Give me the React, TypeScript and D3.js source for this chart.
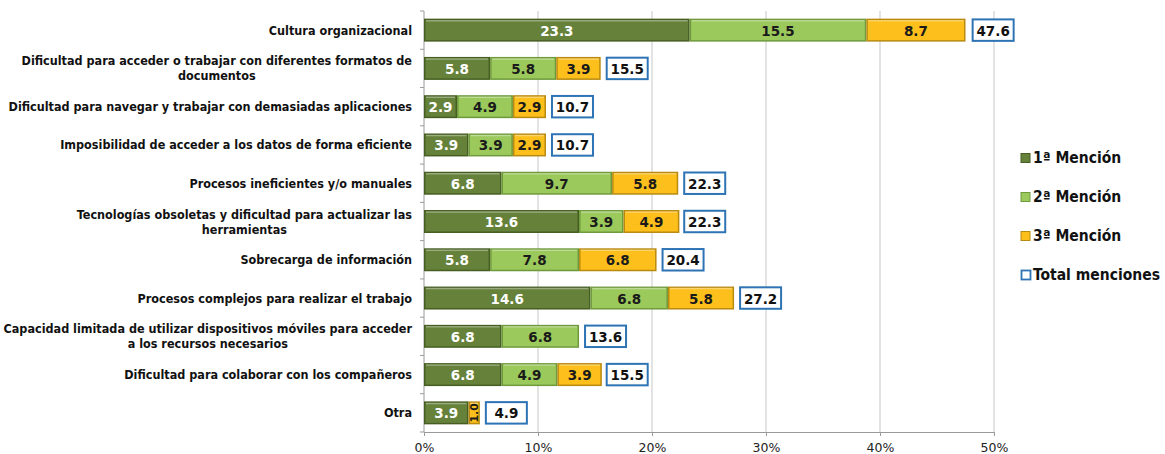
import { useEffect, useRef } from "react";
import * as d3 from "d3";

// Chart values
const categories: string[][] = [
  ["Cultura organizacional"],
  ["Dificultad para acceder o trabajar con diferentes formatos de", "documentos"],
  ["Dificultad para navegar y trabajar con demasiadas aplicaciones"],
  ["Imposibilidad de acceder a los datos de forma eficiente"],
  ["Procesos ineficientes y/o manuales"],
  ["Tecnologías obsoletas y dificultad para actualizar las", "herramientas"],
  ["Sobrecarga de información"],
  ["Procesos complejos para realizar el trabajo"],
  ["Capacidad limitada de utilizar dispositivos móviles para acceder", "a los recursos necesarios"],
  ["Dificultad para colaborar con los compañeros"],
  ["Otra"],
];
const mencion1 = [23.3, 5.8, 2.9, 3.9, 6.8, 13.6, 5.8, 14.6, 6.8, 6.8, 3.9];
const mencion2 = [15.5, 5.8, 4.9, 3.9, 9.7, 3.9, 7.8, 6.8, 6.8, 4.9, 0];
const mencion3 = [8.7, 3.9, 2.9, 2.9, 5.8, 4.9, 6.8, 5.8, 0, 3.9, 1.0];
const totales = [47.6, 15.5, 10.7, 10.7, 22.3, 22.3, 20.4, 27.2, 13.6, 15.5, 4.9];
const xTicks = [0, 10, 20, 30, 40, 50];
const seriesNames = ["1ª Mención", "2ª Mención", "3ª Mención"];
const seriesFill = ["#66823a", "#9bc95c", "#fdbf1c"];
const seriesStroke = ["#465e22", "#6f9a3c", "#b88a10"];
const seriesText = ["#ffffff", "#1a1a1a", "#1a1a1a"];

const W = 1165;
const H = 454;
const FONT = "'DejaVu Sans Condensed', 'DejaVu Sans', sans-serif";
const NUMFONT = "Verdana, 'DejaVu Sans', sans-serif";

export default function App() {
  const ref = useRef<SVGSVGElement>(null);

  useEffect(() => {
    if (!ref.current) return;
    const svg = d3.select(ref.current);
    svg.selectAll("*").remove();

    const margin = { top: 11, right: 171, bottom: 22, left: 424 };

    const x = d3.scaleLinear().domain([0, 50]).range([margin.left, W - margin.right]);
    const y = d3.scaleBand<number>()
      .domain(d3.range(categories.length))
      .range([margin.top, H - margin.bottom])
      .paddingInner(0.4)
      .paddingOuter(0.2);
    const step = y.step();

    // vertical gridlines
    svg.append("g")
      .selectAll("line")
      .data(xTicks.slice(1))
      .join("line")
      .attr("x1", d => x(d)).attr("x2", d => x(d))
      .attr("y1", margin.top).attr("y2", H - margin.bottom)
      .attr("stroke", "#d4d4d4").attr("stroke-width", 1.3);

    // x axis
    const xAxis = svg.append("g")
      .attr("transform", `translate(0,${H - margin.bottom})`)
      .call(d3.axisBottom(x).tickValues(xTicks).tickSize(4).tickFormat(d => `${d}%`));
    xAxis.select(".domain").attr("stroke", "#9a9a9a");
    xAxis.selectAll(".tick line").attr("stroke", "#9a9a9a");
    xAxis.selectAll(".tick text")
      .attr("font-family", NUMFONT)
      .attr("font-size", 12.5).attr("fill", "#222").attr("dy", "1em");

    // y axis line with ticks at band boundaries
    const yg = svg.append("g");
    yg.append("line")
      .attr("x1", margin.left).attr("x2", margin.left)
      .attr("y1", margin.top).attr("y2", H - margin.bottom)
      .attr("stroke", "#9a9a9a");
    yg.selectAll("line.tk")
      .data(d3.range(categories.length + 1))
      .join("line")
      .attr("class", "tk")
      .attr("x1", margin.left - 4).attr("x2", margin.left)
      .attr("y1", d => margin.top + d * step).attr("y2", d => margin.top + d * step)
      .attr("stroke", "#9a9a9a");

    // category labels
    const labelX = 412;
    categories.forEach((lines, i) => {
      const cy = y(i)! + y.bandwidth() / 2;
      const g = svg.append("g");
      const t0 = g.append("text")
        .attr("font-family", FONT).attr("font-weight", "bold").attr("font-size", 12.5)
        .attr("fill", "#111").attr("dominant-baseline", "central")
        .text(lines[0]);
      const w0 = (t0.node() as SVGTextElement).getComputedTextLength();
      if (lines.length === 1) {
        t0.attr("x", labelX).attr("y", cy).attr("text-anchor", "end");
      } else {
        const mid = labelX - w0 / 2;
        t0.attr("x", mid).attr("y", cy - 7.5).attr("text-anchor", "middle");
        g.append("text")
          .attr("font-family", FONT).attr("font-weight", "bold").attr("font-size", 12.5)
          .attr("fill", "#111").attr("dominant-baseline", "central")
          .attr("x", mid).attr("y", cy + 7.5).attr("text-anchor", "middle")
          .text(lines[1]);
      }
    });

    // stacked segments
    const series = [mencion1, mencion2, mencion3];
    const bh = y.bandwidth();
    categories.forEach((_, i) => {
      let acc = 0;
      series.forEach((vals, s) => {
        const v = vals[i];
        if (!v) return;
        const x0 = x(acc);
        const x1 = x(acc + v);
        acc += v;
        const y0 = y(i)!;
        const g = svg.append("g");
        g.append("rect")
          .attr("x", x0 + 0.75).attr("y", y0 + 0.75)
          .attr("width", x1 - x0 - 1.5).attr("height", bh - 1.5)
          .attr("fill", seriesFill[s])
          .attr("stroke", seriesStroke[s]).attr("stroke-width", 1.5);
        // bevel highlight
        g.append("line")
          .attr("x1", x0 + 2).attr("x2", x1 - 2)
          .attr("y1", y0 + 2).attr("y2", y0 + 2)
          .attr("stroke", "#ffffff").attr("stroke-opacity", 0.35).attr("stroke-width", 1.5);
        const cx = (x0 + x1) / 2;
        const cy = y0 + bh / 2;
        const label = v.toFixed(1);
        const txt = g.append("text")
          .attr("font-family", NUMFONT)
          .attr("font-weight", "bold").attr("font-size", 13.5)
          .attr("fill", seriesText[s])
          .attr("text-anchor", "middle").attr("dominant-baseline", "central")
          .text(label);
        if (x1 - x0 < 20) {
          txt.attr("transform", `translate(${cx},${cy}) rotate(-90)`).attr("font-size", 11);
        } else {
          txt.attr("x", cx).attr("y", cy + 0.5);
        }
      });
      // total box
      const bx = x(totales[i]) + 6;
      const g = svg.append("g");
      g.append("rect")
        .attr("x", bx).attr("y", y(i)! + 0.75)
        .attr("width", 41).attr("height", bh - 1.5)
        .attr("fill", "#ffffff").attr("stroke", "#2e74b5").attr("stroke-width", 2);
      g.append("text")
        .attr("x", bx + 20.5).attr("y", y(i)! + bh / 2 + 0.5)
        .attr("font-family", NUMFONT)
        .attr("font-weight", "bold").attr("font-size", 13.5).attr("fill", "#111")
        .attr("text-anchor", "middle").attr("dominant-baseline", "central")
        .text(totales[i].toFixed(1));
    });

    // legend
    const legend = svg.append("g").attr("transform", "translate(1021,0)");
    const items = [...seriesNames, "Total menciones"];
    items.forEach((name, k) => {
      const ly = 158 + k * 39;
      if (k < 3) {
        legend.append("rect")
          .attr("x", 0).attr("y", ly - 4.5).attr("width", 9).attr("height", 9)
          .attr("fill", seriesFill[k]).attr("stroke", seriesStroke[k]);
      } else {
        legend.append("rect")
          .attr("x", 0.5).attr("y", ly - 4.5).attr("width", 9).attr("height", 9)
          .attr("fill", "#ffffff").attr("stroke", "#2e74b5").attr("stroke-width", 1.8);
      }
      legend.append("text")
        .attr("x", 12).attr("y", ly)
        .attr("font-family", FONT)
        .attr("font-weight", "bold").attr("font-size", 15.5).attr("fill", "#111")
        .attr("dominant-baseline", "central")
        .text(name);
    });
  }, []);

  return (
    <svg
      ref={ref}
      width={W}
      height={H}
      style={{ position: "absolute", left: 0, top: 0, background: "#ffffff" }}
    />
  );
}
